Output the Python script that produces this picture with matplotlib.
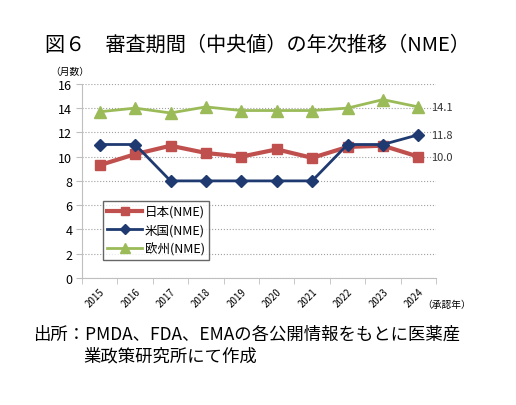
import matplotlib
matplotlib.use("Agg")
import matplotlib.pyplot as plt

plt.rcParams['font.family'] = ['Noto Sans CJK JP', 'DejaVu Sans']

years = ['2015', '2016', '2017', '2018', '2019', '2020', '2021', '2022', '2023', '2024']
japan = [9.3, 10.2, 10.9, 10.3, 10.0, 10.6, 9.9, 10.8, 10.9, 10.0]
usa = [11.0, 11.0, 8.0, 8.0, 8.0, 8.0, 8.0, 11.0, 11.0, 11.8]
europe = [13.7, 14.0, 13.6, 14.1, 13.8, 13.8, 13.8, 14.0, 14.7, 14.1]
series_names = ['日本(NME)', '米国(NME)', '欧州(NME)']
yticks = [0, 2, 4, 6, 8, 10, 12, 14, 16]

fig = plt.figure(figsize=(5.16, 4.06), dpi=100)
ax = fig.add_axes([0.159, 0.313, 0.686, 0.478])

x = list(range(len(years)))
ax.plot(x, japan, color='#C0504D', lw=3, marker='s', ms=6.5, label=series_names[0], zorder=3)
ax.plot(x, usa, color='#1F3A70', lw=2, marker='D', ms=6, label=series_names[1], zorder=4)
ax.plot(x, europe, color='#9BBB59', lw=2, marker='^', ms=8, label=series_names[2], zorder=3)

ax.set_xlim(-0.5, len(years) - 0.5)
ax.set_ylim(0, 16)
ax.set_yticks(yticks)
ax.set_yticklabels([str(v) for v in yticks], fontsize=9)
ax.set_xticks(x)
ax.set_xticklabels(years, rotation=45, fontsize=7, ha='right', rotation_mode='anchor')
ax.set_xticks([i - 0.5 for i in range(len(years) + 1)], minor=True)
ax.tick_params(axis='x', which='major', length=0, pad=6)
ax.tick_params(axis='x', which='minor', length=4, color='#BFBFBF')
ax.tick_params(axis='y', length=4, color='#BFBFBF', pad=3)

for s in ['top', 'right']:
    ax.spines[s].set_visible(False)
for s in ['left', 'bottom']:
    ax.spines[s].set_color('#BFBFBF')
ax.yaxis.grid(True, linestyle=':', color='#A0A0A0', lw=0.8)
ax.set_axisbelow(True)

for vals in (europe, usa, japan):
    ax.annotate(f'{vals[-1]:.1f}', (x[-1], vals[-1]), xytext=(9, 0),
                textcoords='offset points', va='center', ha='left', fontsize=8,
                color='#333333')

leg = ax.legend(loc='lower left', bbox_to_anchor=(0.059, 0.093), borderaxespad=0,
                fontsize=9, frameon=True, fancybox=False, edgecolor='#404040',
                handlelength=2.8, borderpad=0.35, labelspacing=0.45, handletextpad=0.2,
                markerscale=0.85)
leg.get_frame().set_linewidth(1.0)

fig.text(45 / 516, 1 - 45 / 406, '図６　審査期間（中央値）の年次推移（NME）', fontsize=14.5,
         va='center', ha='left')
fig.text(50 / 516, 1 - 72 / 406, '（月数）', fontsize=7, va='center', ha='left')
fig.text(422 / 516, 1 - 305 / 406, '（承認年）', fontsize=7, va='center', ha='left')
fig.text(33 / 516, 1 - 335 / 406, '出所：PMDA、FDA、EMAの各公開情報をもとに医薬産',
         fontsize=12.5, va='center', ha='left')
fig.text(83 / 516, 1 - 357 / 406, '業政策研究所にて作成', fontsize=12.5, va='center', ha='left')

fig.savefig('out.png', dpi=100)
